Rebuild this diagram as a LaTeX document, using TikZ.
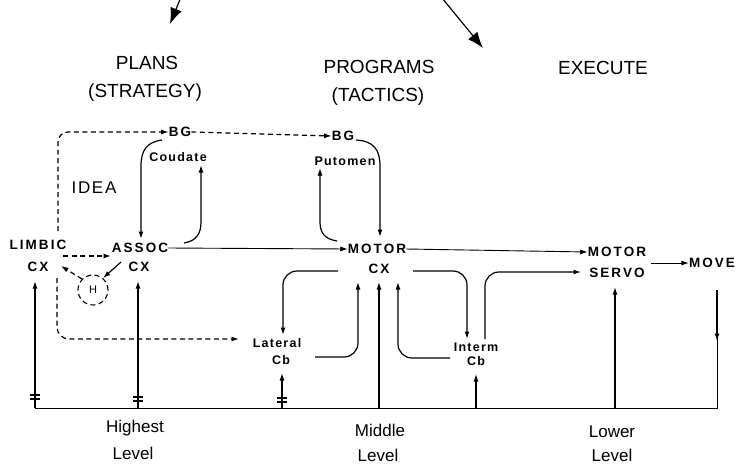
\documentclass[tikz,border=0pt]{standalone}
\usepackage{fontspec}
\setmainfont{Liberation Sans}
\newfontfamily\lab{Liberation Sans}[LetterSpace=15]
\newfontfamily\labs{Liberation Sans}[LetterSpace=10]
\usetikzlibrary{arrows.meta}
\begin{document}
\begin{tikzpicture}[x=1pt,y=-1pt,
  big/.style={font=\fontsize{19}{22}\selectfont, inner sep=0pt},
  lev/.style={font=\fontsize{17}{20}\selectfont, inner sep=0pt},
  lbl/.style={font=\lab\bfseries\fontsize{13.5}{15}\selectfont, inner sep=0pt},
  sm/.style={font=\labs\bfseries\fontsize{12.5}{14}\selectfont, inner sep=0pt},
  idealbl/.style={font=\labs\fontsize{17}{19}\selectfont, inner sep=0pt},
  ln/.style={line width=1.1pt},
  thinln/.style={line width=0.9pt},
  arr/.style={-{Latex[length=7.5pt,width=5pt]}, line width=1.2pt},
  bigarr/.style={-{Latex[length=16pt,width=12pt]}, line width=1.2pt},
  dsh/.style={dash pattern=on 5pt off 3.5pt}]
\useasboundingbox (0,0) rectangle (735,466);
\fill[white] (0,0) rectangle (735,466);

% headings
\node[big] (plans) at (147,63) {PLANS};
\node[big] (strat) at (145,93) {(STRATEGY)};
\node[big] (progs) at (379,67) {PROGRAMS};
\node[big] (tact) at (378,97) {(TACTICS)};
\node[big] (exec) at (603,68) {EXECUTE};
\coordinate (a1s) at (181,-3);
\coordinate (a1e) at (170,24);
\coordinate (a2s) at (442,-2);
\coordinate (a2e) at (483,48);
\draw[bigarr] (a1s) -- (a1e);
\draw[bigarr] (a2s) -- (a2e);

% nodes
\node[lbl] (bg1) at (180,132) {BG};
\node[sm] (caud) at (178,157) {Coudate};
\node[lbl] (bg2) at (343,136) {BG};
\node[sm] (put) at (345,161) {Putomen};
\node[idealbl] (idea) at (94,188) {IDEA};
\node[lbl] (limbic) at (38,245) {LIMBIC};
\node[lbl] (lcx) at (38,267) {CX};
\node[lbl] (assoc) at (140,248) {ASSOC};
\node[lbl] (acx) at (139,267) {CX};
\node[circle, draw, ln, dsh, minimum size=30pt, inner sep=0pt,
      font=\fontsize{11}{12}\selectfont] (h) at (93,290) {H};
\node[lbl] (motor) at (377,249) {MOTOR};
\node[lbl] (mcx) at (379,269) {CX};
\node[sm] (lat) at (277,343) {Lateral};
\node[sm] (lcb) at (281,360) {Cb};
\node[sm] (interm) at (476,347) {Interm};
\node[sm] (icb) at (476,361) {Cb};
\node[lbl] (mservo) at (617,252) {MOTOR};
\node[lbl] (servo) at (617,273) {SERVO};
\node[lbl] (move) at (712,263) {MOVE};
\node[lev] (hi) at (135,428) {Highest};
\node[lev] (lv1) at (133,453) {Level};
\node[lev] (midd) at (380,430) {Middle};
\node[lev] (lv2) at (378,455) {Level};
\node[lev] (lo) at (612,432) {Lower};
\node[lev] (lv3) at (612,455) {Level};

% dashed paths (IDEA)
\coordinate (ls1) at (58,231);
\draw[arr, dsh, rounded corners=10pt] (ls1) -- (58,132) -- (bg1.west);
\draw[arr, dsh] (bg1.east) -- (bg2.west);
\coordinate (ld1) at (63,256);
\coordinate (ld2) at (111,256);
\draw[arr, dsh] (ld1) -- (ld2);
\coordinate (ls2) at (57,278);
\coordinate (latin) at (239,339);
\draw[arr, dsh, rounded corners=12pt] (ls2) -- (57,339) -- (latin);
\coordinate (hl) at (61,266);
\draw[arr, dsh] (h.135) -- (hl);
\coordinate (ah) at (121,262);
\draw[arr] (ah) -- (h.50);

% basal ganglia loops
\coordinate (bg1o) at (162,140);
\coordinate (assin) at (141,239);
\draw[arr] (bg1o) .. controls (147,142) and (141,150) .. (141,166) -- (assin);
\coordinate (asso) at (184,243);
\coordinate (caudin) at (201,165);
\draw[arr] (asso) .. controls (196,241) and (201,234) .. (201,222) -- (caudin);
\coordinate (bg2o) at (356,140);
\coordinate (motin) at (380,237);
\draw[arr] (bg2o) .. controls (374,141) and (380,150) .. (380,166) -- (motin);
\coordinate (moto) at (337,241);
\coordinate (putin) at (320,168);
\draw[arr] (moto) .. controls (324,239) and (320,232) .. (320,222) -- (putin);

% main flow
\draw[arr, line width=0.9pt] (assoc.east) -- (motor.west);
\draw[arr, line width=0.9pt] (motor.east) -- (mservo.west);
\draw[arr, line width=0.9pt] (servo.east |- move.west) ++(6,0) -- (move.west);

% cerebellar loops
\coordinate (c1) at (338,271); \coordinate (c1e) at (283,335);
\draw[arr, rounded corners=14pt] (c1) -- (283,271) -- (c1e);
\coordinate (c2) at (413,271); \coordinate (c2e) at (467,339);
\draw[arr, rounded corners=14pt] (c2) -- (467,271) -- (c2e);
\coordinate (c3) at (315,357); \coordinate (c3e) at (358,282);
\draw[arr, rounded corners=14pt] (c3) -- (358,357) -- (c3e);
\coordinate (c4) at (450,358); \coordinate (c4e) at (398,282);
\draw[arr, rounded corners=14pt] (c4) -- (398,358) -- (c4e);
\coordinate (c5) at (485,339); \coordinate (c5e) at (581,272);
\draw[arr, rounded corners=14pt] (c5) -- (485,272) -- (c5e);

% feedback bus
\coordinate (busL) at (35,408);
\coordinate (busR) at (717,408);
\coordinate (mvo) at (717,290);
\coordinate (mvm) at (717,341);
\draw[arr] (mvo) -- (mvm);
\draw[thinln] (717,336) -- (busR) -- (busL);
\draw[arr] (busL) -- (35,281);
\draw[arr] (138,408) -- (138,281);
\draw[arr] (282,408) -- (282,373);
\draw[arr] (379,408) -- (379,282);
\draw[arr] (476,408) -- (476,374);
\draw[arr] (615,408) -- (615,287);
\foreach \x/\y in {35/395,138/397,282/398}{
  \draw[ln] (\x-5,\y) -- (\x+5,\y);
  \draw[ln] (\x-5,\y+4) -- (\x+5,\y+4);
}
\end{tikzpicture}
\end{document}
